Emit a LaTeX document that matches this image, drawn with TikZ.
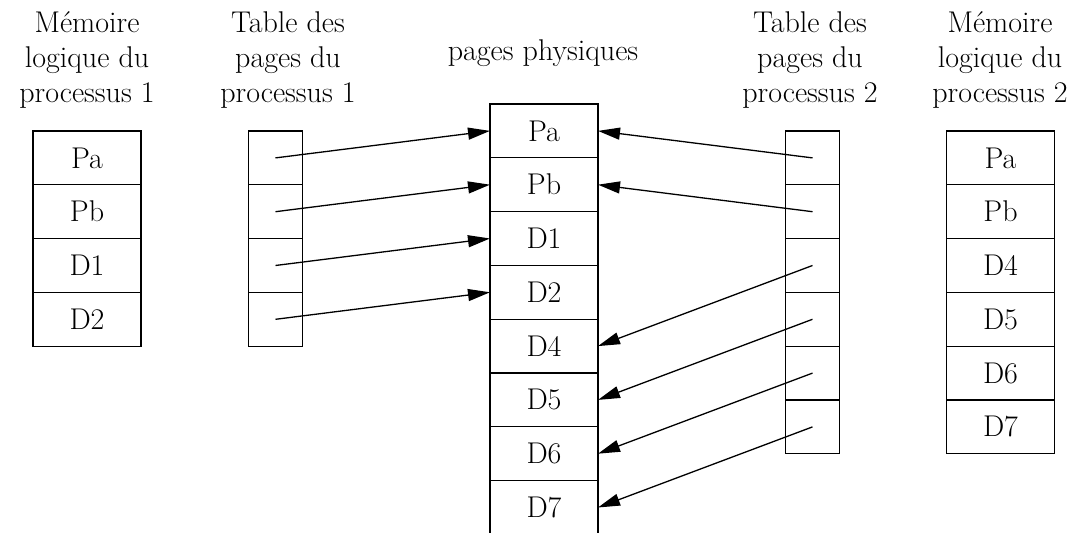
\documentclass[tikz,border=0pt]{standalone}
\usepackage{tikz}
\usetikzlibrary{arrows.meta}

\tikzset{
  case/.style={draw, line width=0.65pt, inner sep=0pt, outer sep=0pt, minimum height=26.9pt},
  large/.style={case, minimum width=54pt},
  etroite/.style={case, minimum width=27pt},
  titre/.style={align=center, anchor=base, font=\fontsize{15}{17.5}\selectfont},
  fleche/.style={line width=0.65pt, -{Triangle[length=11pt,width=6pt]}}
}

\begin{document}
\begin{tikzpicture}[x=0.5pt, y=-0.5pt, font=\fontsize{15}{17.5}\selectfont]
  \useasboundingbox (0,0) rectangle (1082,533);
  % Titres des colonnes
  \node[titre] (titreM1) at (87,103) {Mémoire\\logique du\\processus 1};
  \node[titre] (titreT1) at (288,103) {Table des\\pages du\\processus 1};
  \node[titre] (titreP) at (543,61) {pages physiques};
  \node[titre] (titreT2) at (810,103) {Table des\\pages du\\processus 2};
  \node[titre] (titreM2) at (1000,103) {Mémoire\\logique du\\processus 2};
  % Mémoire logique du processus 1
  \foreach \nom [count=\i] in {Pa,Pb,D1,D2}
    \node[large] (m1-\i) at (87,{131+26.9+(\i-1)*53.8}) {\nom};
  % Table des pages du processus 1
  \foreach \i in {1,...,4}
    \node[etroite] (t1-\i) at (275.5,{131+26.9+(\i-1)*53.8}) {};
  % Pages physiques
  \foreach \nom [count=\i] in {Pa,Pb,D1,D2,D4,D5,D6,D7}
    \node[large] (p-\i) at (544,{104+26.9+(\i-1)*53.8}) {\nom};
  % Table des pages du processus 2
  \foreach \i in {1,...,6}
    \node[etroite] (t2-\i) at (812.5,{131+26.9+(\i-1)*53.8}) {};
  % Mémoire logique du processus 2
  \foreach \nom [count=\i] in {Pa,Pb,D4,D5,D6,D7}
    \node[large] (m2-\i) at (1000.5,{131+26.9+(\i-1)*53.8}) {\nom};
  % Correspondances
  \foreach \i in {1,...,4}
    \draw[fleche] (t1-\i.center) -- (p-\i.west);
  \foreach \i/\j in {1/1,2/2,3/5,4/6,5/7,6/8}
    \draw[fleche] (t2-\i.center) -- (p-\j.east);
\end{tikzpicture}
\end{document}
